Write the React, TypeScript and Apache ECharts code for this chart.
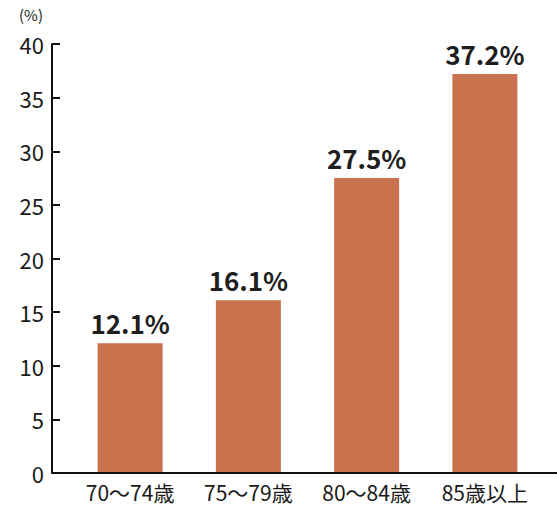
import React, { useEffect, useRef } from "react";
import * as echarts from "echarts";

const categories = ["70〜74歳", "75〜79歳", "80〜84歳", "85歳以上"];
const values = [12.1, 16.1, 27.5, 37.2];
const yTicks = { min: 0, max: 40, interval: 5 };

export default function App() {
  const ref = useRef<HTMLDivElement>(null);
  useEffect(() => {
    document.body.style.margin = "0";
    const chart = echarts.init(ref.current!, null, { renderer: "svg" });
    const font = "'Noto Sans CJK JP', 'Noto Sans', sans-serif";
    chart.setOption({
      animation: false,
      textStyle: { fontFamily: font },
      grid: { left: 71, top: 44, width: 473, bottom: 33 },
      graphic: [
        {
          type: "line",
          shape: { x1: 52, y1: 473, x2: 557, y2: 473 },
          style: { stroke: "#111", lineWidth: 2 },
          z: 10,
        },
        {
          type: "text",
          left: 19,
          top: 7,
          style: { text: "(%)", fontSize: 15, fill: "#222", fontFamily: font },
        },
      ],
      xAxis: {
        type: "category",
        data: categories,
        axisLine: { show: false },
        axisTick: { show: false },
        axisLabel: { fontSize: 21, color: "#1a1a1a", margin: 8, fontFamily: font },
      },
      yAxis: {
        type: "value",
        min: yTicks.min,
        max: yTicks.max,
        interval: yTicks.interval,
        offset: 19,
        splitLine: { show: false },
        axisLine: { show: true, lineStyle: { color: "#111", width: 2 } },
        axisTick: { show: true, inside: true, length: 8, lineStyle: { color: "#111", width: 2 } },
        axisLabel: { fontSize: 22, color: "#1a1a1a", margin: 8, fontFamily: font },
      },
      series: [
        {
          type: "bar",
          data: values,
          barWidth: 65,
          itemStyle: { color: "#C9724D" },
          label: {
            show: true,
            position: "top",
            distance: 8,
            formatter: (p: any) => p.value.toFixed(1) + "%",
            fontSize: 26,
            fontWeight: "bold",
            color: "#1e1e1e",
            fontFamily: font,
          },
        },
      ],
    });
    return () => chart.dispose();
  }, []);
  return <div ref={ref} style={{ width: 557, height: 506 }} />;
}
